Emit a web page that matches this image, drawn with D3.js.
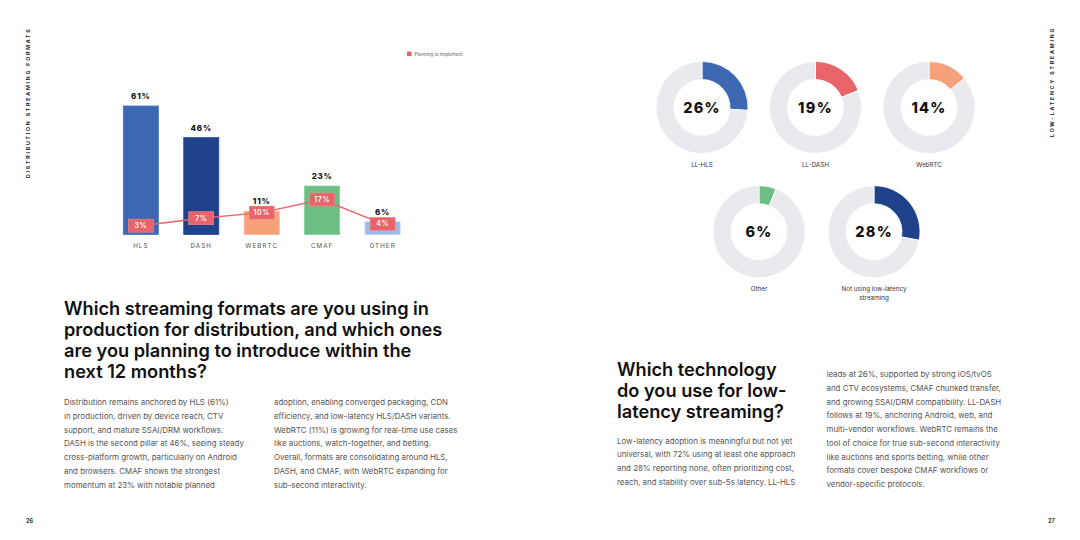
<!DOCTYPE html>
<html>
<head>
<meta charset="utf-8">
<script src="https://cdn.jsdelivr.net/npm/d3@7"></script>
<style>
  html, body { margin: 0; padding: 0; background: #fff; }
  svg { display: block; font-family: Inter, "Noto Sans", sans-serif; }
</style>
</head>
<body>
<div id="page"></div>
<script>
const formats = ["HLS", "DASH", "WEBRTC", "CMAF", "OTHER"];
const inProduction = [61, 46, 11, 23, 6];
const planning = [3, 7, 10, 17, 4];
const formatColors = ["#3d69b3", "#1f428a", "#f6a07c", "#6dbd85", "#9fbbe4"];

const llTech = ["LL-HLS", "LL-DASH", "WebRTC", "Other", "Not using low-latency streaming"];
const llShare = [26, 19, 14, 6, 28];
const llColors = ["#3d69b3", "#e8646a", "#f6a07c", "#6dbd85", "#1f428a"];

const W = 1080, H = 540;
const red = "#e8646a";

const svg = d3.select("#page").append("svg")
  .attr("width", W)
  .attr("height", H);

// side tabs
svg.append("text")
  .attr("transform", "translate(30,178) rotate(-90)")
  .attr("font-size", 5.2).attr("font-weight", 700).attr("letter-spacing", 1.8)
  .attr("fill", "#222")
  .text("DISTRIBUTION STREAMING FORMATS");
svg.append("text")
  .attr("transform", "translate(1054,137) rotate(-90)")
  .attr("font-size", 5.2).attr("font-weight", 700).attr("letter-spacing", 1.85)
  .attr("fill", "#222")
  .text("LOW-LATENCY STREAMING");

// page numbers
svg.append("text").attr("x", 26).attr("y", 523).attr("font-size", 5.5).attr("font-weight", 700).attr("fill", "#333").text("26");
svg.append("text").attr("x", 1048).attr("y", 523).attr("font-size", 5.5).attr("font-weight", 700).attr("fill", "#333").text("27");

// ---------- bar chart ----------
const chart = svg.append("g");
const x = d3.scaleBand().domain(formats).range([111.2, 412.2]).paddingInner(0.42).paddingOuter(0.2);
const y = d3.scaleLinear().domain([0, 61]).range([234.5, 106]);
const yLine = d3.scaleLinear().domain([0, 17]).range([231.3, 199.5]);

chart.selectAll("rect.bar")
  .data(formats)
  .join("rect")
  .attr("class", "bar")
  .attr("x", d => x(d))
  .attr("y", (d, i) => y(inProduction[i]))
  .attr("width", x.bandwidth())
  .attr("height", (d, i) => y(0) - y(inProduction[i]))
  .attr("fill", (d, i) => formatColors[i])
  .attr("stroke", (d, i) => d3.color(formatColors[i]).brighter(0.35))
  .attr("stroke-width", 0.8);

chart.selectAll("text.val")
  .data(formats)
  .join("text")
  .attr("class", "val")
  .attr("x", d => x(d) + x.bandwidth() / 2)
  .attr("y", (d, i) => y(inProduction[i]) - 7)
  .attr("text-anchor", "middle")
  .attr("font-size", 8).attr("font-weight", 800).attr("letter-spacing", 0.8)
  .attr("fill", "#111")
  .text((d, i) => inProduction[i] + "%");

const xAxis = chart.append("g")
  .attr("transform", `translate(0,${y(0)})`)
  .call(d3.axisBottom(x).tickSize(0).tickPadding(9));
xAxis.select(".domain").remove();
xAxis.selectAll("text")
  .attr("font-family", "Inter, sans-serif")
  .attr("font-size", 6.2).attr("letter-spacing", 1.1).attr("fill", "#555");

const line = d3.line()
  .x((d, i) => x(formats[i]) + x.bandwidth() / 2)
  .y(d => yLine(d));
chart.append("path")
  .datum(planning)
  .attr("d", line)
  .attr("fill", "none")
  .attr("stroke", red)
  .attr("stroke-width", 1.4);

const tags = chart.selectAll("g.tag")
  .data(planning)
  .join("g")
  .attr("class", "tag")
  .attr("transform", (d, i) => `translate(${x(formats[i]) + x.bandwidth() / 2},${yLine(d)})`);
tags.append("rect")
  .attr("x", -12.5).attr("y", -6.5)
  .attr("width", 25).attr("height", 13)
  .attr("fill", red)
  .attr("stroke", "#f08a8e").attr("stroke-width", 0.6);
tags.append("text")
  .attr("text-anchor", "middle")
  .attr("dy", "0.35em")
  .attr("font-size", 7).attr("font-weight", 600).attr("letter-spacing", 0.6)
  .attr("fill", "#fff")
  .text(d => d + "%");

// legend
svg.append("rect").attr("x", 407).attr("y", 51.5).attr("width", 4.5).attr("height", 4.5).attr("fill", red);
svg.append("text").attr("x", 414.5).attr("y", 55.8).attr("font-size", 4.6).attr("fill", "#666").text("Planning to implement");

// ---------- donuts ----------
const donutPos = [[702, 107.5], [815.5, 107.5], [929, 107.5], [759, 231.7], [874, 231.7]];
const labelLines = [["LL-HLS"], ["LL-DASH"], ["WebRTC"], ["Other"], ["Not using low-latency", "streaming"]];
const arc = d3.arc().innerRadius(28).outerRadius(46);
const pie = d3.pie().sort(null).value(d => d);

llTech.forEach((name, i) => {
  const [cx, cy] = donutPos[i];
  const g = svg.append("g").attr("transform", `translate(${cx},${cy})`);
  g.selectAll("path")
    .data(pie([llShare[i], 100 - llShare[i]]))
    .join("path")
    .attr("d", arc)
    .attr("fill", (d, j) => j === 0 ? llColors[i] : "#e9eaee")
    .attr("stroke", "#fff")
    .attr("stroke-width", 0.8);
  g.append("text")
    .attr("text-anchor", "middle")
    .attr("dy", "0.36em")
    .attr("font-size", 14.5).attr("font-weight", 800).attr("letter-spacing", 1.3)
    .attr("fill", "#111")
    .text(llShare[i] + "%");
  const lab = g.append("text")
    .attr("text-anchor", "middle")
    .attr("font-size", 6.3).attr("fill", "#333");
  labelLines[i].forEach((t, k) => {
    lab.append("tspan").attr("x", 0).attr("y", 59 + k * 9).text(t);
  });
});

// ---------- text blocks ----------
function block(xp, yp, lines, size, lh, weight, color) {
  const t = svg.append("text").attr("font-size", size).attr("font-weight", weight).attr("fill", color);
  lines.forEach((s, k) => t.append("tspan").attr("x", xp).attr("y", yp + k * lh).text(s));
}

block(64, 314.5, [
  "Which streaming formats are you using in",
  "production for distribution, and which ones",
  "are you planning to introduce within the",
  "next 12 months?"
], 18.2, 21, 600, "#111");

block(64, 405, [
  "Distribution remains anchored by HLS (61%)",
  "in production, driven by device reach, CTV",
  "support, and mature SSAI/DRM workflows.",
  "DASH is the second pillar at 46%, seeing steady",
  "cross-platform growth, particularly on Android",
  "and browsers. CMAF shows the strongest",
  "momentum at 23% with notable planned"
], 7.9, 13.75, 400, "#555");

block(274, 405, [
  "adoption, enabling converged packaging, CDN",
  "efficiency, and low-latency HLS/DASH variants.",
  "WebRTC (11%) is growing for real-time use cases",
  "like auctions, watch-together, and betting.",
  "Overall, formats are consolidating around HLS,",
  "DASH, and CMAF, with WebRTC expanding for",
  "sub-second interactivity."
], 7.9, 13.75, 400, "#555");

block(617, 376, [
  "Which technology",
  "do you use for low-",
  "latency streaming?"
], 18.2, 20.8, 600, "#111");

block(617, 443.5, [
  "Low-latency adoption is meaningful but not yet",
  "universal, with 72% using at least one approach",
  "and 28% reporting none, often prioritizing cost,",
  "reach, and stability over sub-5s latency. LL-HLS"
], 7.9, 13.75, 400, "#555");

block(826.5, 377, [
  "leads at 26%, supported by strong iOS/tvOS",
  "and CTV ecosystems, CMAF chunked transfer,",
  "and growing SSAI/DRM compatibility. LL-DASH",
  "follows at 19%, anchoring Android, web, and",
  "multi-vendor workflows. WebRTC remains the",
  "tool of choice for true sub-second interactivity",
  "like auctions and sports betting, while other",
  "formats cover bespoke CMAF workflows or",
  "vendor-specific protocols."
], 7.9, 13.75, 400, "#555");
</script>
</body>
</html>
